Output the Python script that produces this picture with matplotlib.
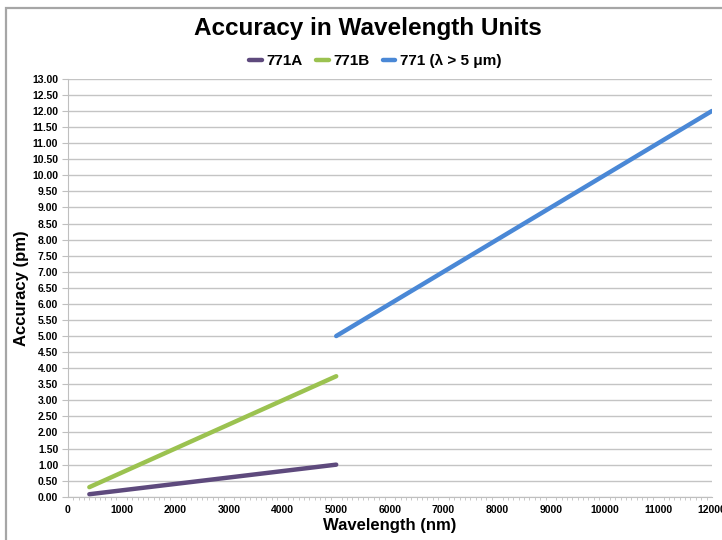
import matplotlib
matplotlib.use('Agg')
import matplotlib.pyplot as plt
from matplotlib.patches import Rectangle
from matplotlib.ticker import MultipleLocator, FormatStrFormatter

plt.rcParams['font.family'] = ['Liberation Sans', 'DejaVu Sans']

# data: wavelength (nm) end points and accuracy (pm)
x_771a = [400, 5000]
y_771a = [0.08, 1.00]
x_771b = [400, 5000]
y_771b = [0.30, 3.75]
x_771 = [5000, 12000]
y_771 = [5.00, 12.00]

labels = ['771A', '771B', '771 (λ > 5 μm)']
colors = ['#5E4A7D', '#9BC250', '#4A88D6']

fig = plt.figure(figsize=(7.22, 5.4), dpi=100)
ax = fig.add_axes([0.094, 0.080, 0.892, 0.774])

ax.plot(x_771a, y_771a, color=colors[0], lw=3.2, solid_capstyle='round', label=labels[0])
ax.plot(x_771b, y_771b, color=colors[1], lw=3.2, solid_capstyle='round', label=labels[1])
ax.plot(x_771, y_771, color=colors[2], lw=3.2, solid_capstyle='round', label=labels[2])

ax.set_xlim(0, 12000)
ax.set_ylim(0, 13)
ax.yaxis.set_major_locator(MultipleLocator(0.5))
ax.yaxis.set_major_formatter(FormatStrFormatter('%.2f'))
ax.xaxis.set_major_locator(MultipleLocator(1000))
ax.xaxis.set_minor_locator(MultipleLocator(100))

ax.grid(axis='y', color='#C4C4C4', lw=1)
ax.set_axisbelow(True)
for s in ['top', 'right']:
    ax.spines[s].set_visible(False)
for s in ['left', 'bottom']:
    ax.spines[s].set_color('#BFBFBF')
ax.tick_params(axis='y', length=4, color='#BFBFBF', labelsize=7.5, pad=3)
ax.tick_params(axis='x', which='major', length=0, labelsize=7.5, pad=6)
ax.tick_params(axis='x', which='minor', length=2.5, color='#BFBFBF')
for t in ax.get_xticklabels() + ax.get_yticklabels():
    t.set_fontweight('bold')

ax.set_xlabel('Wavelength (nm)', fontsize=12, fontweight='bold', labelpad=2)
ax.set_ylabel('Accuracy (pm)', fontsize=12, fontweight='bold', labelpad=2)

fig.text(0.51, 0.948, 'Accuracy in Wavelength Units', ha='center', va='center',
         fontsize=17.5, fontweight='bold')
fig.legend(loc='center', bbox_to_anchor=(0.52, 0.887), ncol=3, frameon=False,
           handlelength=0.8, handletextpad=0.3, columnspacing=0.9,
           prop={'size': 11, 'weight': 'bold'})

fig.patches.append(Rectangle((6 / 722, -0.1), 1.2, 1.1 - 8 / 540,
                             transform=fig.transFigure, fill=False,
                             edgecolor='#A6A6A6', lw=1.6))

fig.savefig('out.png', dpi=100)
